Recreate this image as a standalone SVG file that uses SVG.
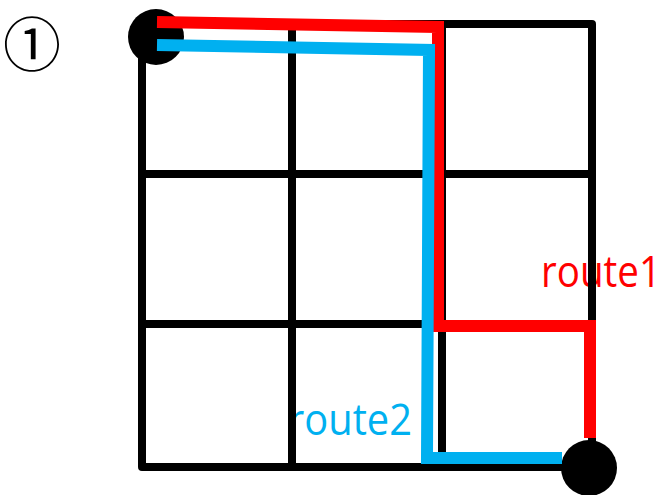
<svg xmlns="http://www.w3.org/2000/svg" width="669" height="495" viewBox="0 0 669 495">
<style>
.grid{fill:none;stroke:#000;stroke-width:8;stroke-linejoin:round}
.route{fill:none;stroke-width:12;stroke-linejoin:miter;stroke-linecap:butt}
.lbl{font-family:"Open Sans","Noto Sans",sans-serif;font-size:39px}
.dot{fill:#000}
</style>
<rect width="669" height="495" fill="#fff"/>
<text x="3" y="66" font-family="'Noto Sans CJK JP',sans-serif" font-size="58" fill="#000">①</text>
<g id="labels">
<text class="lbl" transform="translate(541,287) scale(1,1.12)" x="0" y="0" fill="#ff0000" textLength="120" lengthAdjust="spacingAndGlyphs">route1</text>
<text class="lbl" transform="translate(288,435) scale(1,1.12)" x="0" y="0" fill="#00b0f0" textLength="124" lengthAdjust="spacingAndGlyphs">route2</text>
</g>
<g id="grid">
<rect class="grid" x="142" y="24" width="450" height="443"/>
<line class="grid" x1="292" y1="24" x2="292" y2="467"/>
<line class="grid" x1="442" y1="24" x2="442" y2="467"/>
<line class="grid" x1="142" y1="174" x2="592" y2="174"/>
<line class="grid" x1="142" y1="324" x2="592" y2="324"/>
</g>
<g id="start"><circle class="dot" cx="156" cy="37" r="28"/></g>
<g id="end"><circle class="dot" cx="589" cy="468" r="28"/></g>
<g id="connectors">
<polyline id="route1" class="route" stroke="#ff0000" points="157,22 438,27 438,326 590,326 590,438"/>
<polyline id="route2" class="route" stroke="#00b0f0" points="157,45 429,50 427,458 562,458"/>
</g>
</svg>
